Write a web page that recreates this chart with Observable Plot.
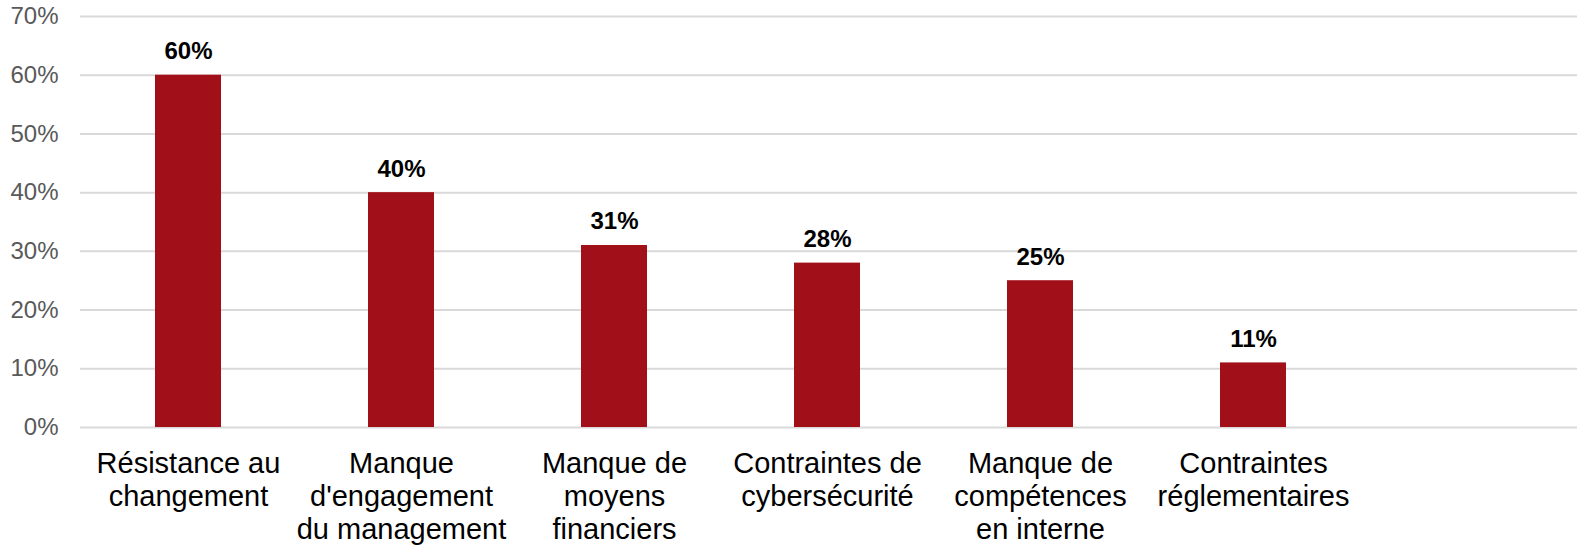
<!DOCTYPE html>
<html>
<head>
<meta charset="utf-8">
<script src="https://cdn.jsdelivr.net/npm/d3@7"></script>
<script src="https://cdn.jsdelivr.net/npm/@observablehq/plot@0.6"></script>
<style>
  html, body { margin: 0; padding: 0; background: #fff; }
  svg { display: block; }
</style>
</head>
<body>
<div id="chart"></div>
<script>
const categories = [
  "Résistance au\nchangement",
  "Manque\nd'engagement\ndu management",
  "Manque de\nmoyens\nfinanciers",
  "Contraintes de\ncybersécurité",
  "Manque de\ncompétences\nen interne",
  "Contraintes\nréglementaires"
];
const values = [0.60, 0.40, 0.31, 0.28, 0.25, 0.11];
const yTicks = [0, 0.1, 0.2, 0.3, 0.4, 0.5, 0.6, 0.7];

const data = categories.map((c, i) => ({category: c, value: values[i]}));
const placeholder = "\u00a0"; // empty seventh slot as in the original
const domain = [...categories, placeholder];

const chart = Plot.plot({
  width: 1579,
  height: 545,
  marginTop: 16,
  marginLeft: 80,
  marginRight: 2,
  marginBottom: 118,
  style: {fontFamily: "'Liberation Sans', Arial, sans-serif", background: "#fff"},
  x: {domain, paddingInner: 0.691, paddingOuter: 0.35, align: 0.49, axis: null},
  y: {domain: [0, 0.7], axis: null},
  marks: [
    Plot.gridY(yTicks, {stroke: "#d9d9d9", strokeOpacity: 1, strokeWidth: 2}),
    Plot.axisY(yTicks, {
      tickSize: 0, tickPadding: 22, fontSize: 24, fill: "#595959", label: null,
      tickFormat: d => Math.round(d * 100) + "%"
    }),
    Plot.barY(data, {x: "category", y: "value", fill: "#a11018"}),
    Plot.text(data, {
      x: "category", y: "value",
      text: d => Math.round(d.value * 100) + "%",
      lineAnchor: "bottom", dy: -16,
      fontSize: 24, fontWeight: "bold", fill: "#000"
    }),
    Plot.axisX(categories, {
      tickSize: 0, tickPadding: 22, fontSize: 29, lineHeight: 1.14,
      fill: "#000", label: null
    })
  ]
});
document.getElementById("chart").appendChild(chart);
</script>
</body>
</html>
